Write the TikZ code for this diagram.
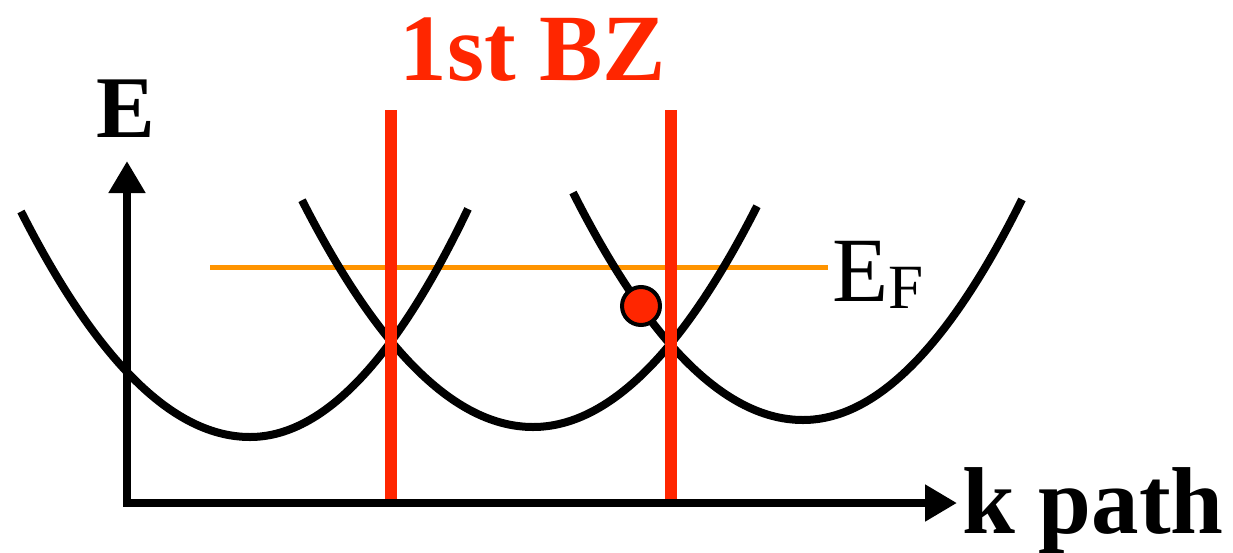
\documentclass[tikz,border=0pt]{standalone}
\usepackage{fontspec}
\setmainfont{Liberation Serif}
\usetikzlibrary{arrows.meta}
\definecolor{bzred}{RGB}{255,38,0}
\definecolor{eforange}{RGB}{255,148,0}
\tikzset{
  band/.style={line width=8pt, black, line cap=butt, line join=round},
  axisline/.style={line width=8pt, black, -{Triangle[length=32pt,width=35pt]}},
  bzline/.style={line width=12pt, bzred},
  efline/.style={line width=5pt, eforange},
  lbl/.style={inner sep=0pt, outer sep=0pt},
}
\begin{document}
\begin{tikzpicture}[x=1pt,y=-1pt]
\useasboundingbox (0,0) rectangle (1233,552);
% coordinates
\coordinate (O) at (127,503);
\coordinate (ytip) at (127,161);
\coordinate (xtip) at (957,503);
\coordinate (bz1top) at (391,110);
\coordinate (bz1bot) at (391,500);
\coordinate (bz2top) at (671,110);
\coordinate (bz2bot) at (671,500);
\coordinate (efL) at (210,267);
\coordinate (efR) at (828,267);
% Fermi level
\draw[efline] (efL) -- (efR);
% bands (asymmetric parabolas)
\draw[band] plot[domain=21:250, samples=60] (\x, {437-43*((\x-250)/100)^2})
  -- plot[domain=250:468, samples=60] (\x, {437-48*((\x-250)/100)^2});
\draw[band] plot[domain=302:533, samples=60] (\x, {427-42.5*((\x-533)/100)^2})
  -- plot[domain=533:757, samples=60] (\x, {427-44*((\x-533)/100)^2});
\draw[band] plot[domain=573:803, samples=60] (\x, {420-43*((\x-803)/100)^2})
  -- plot[domain=803:1022, samples=60] (\x, {420-46*((\x-803)/100)^2});
% BZ boundaries
\draw[bzline] (bz1bot) -- (bz1top);
\draw[bzline] (bz2bot) -- (bz2top);
% axes
\draw[axisline] ([yshift=4pt]O) -- (ytip);
\draw[axisline] ([xshift=-4pt]O) -- (xtip);
% electron
\node[circle, fill=bzred, draw=black, line width=4pt, minimum size=38pt, inner sep=0pt] (dot) at (641,306) {};
% labels
\node[lbl, anchor=base, text=bzred] (bz) at (533,80) {\fontsize{95}{95}\selectfont\bfseries 1st BZ};
\node[lbl, anchor=base] (E) at (126,137) {\fontsize{88}{88}\selectfont\bfseries E};
\node[lbl, anchor=base] (kp) at (1093,533) {\fontsize{95}{95}\selectfont\bfseries k path};
\node[lbl, anchor=base west] (EF) at (832,301) {\fontsize{92}{92}\selectfont E\raisebox{-7pt}{\fontsize{63}{63}\selectfont F}};
\end{tikzpicture}
\end{document}
